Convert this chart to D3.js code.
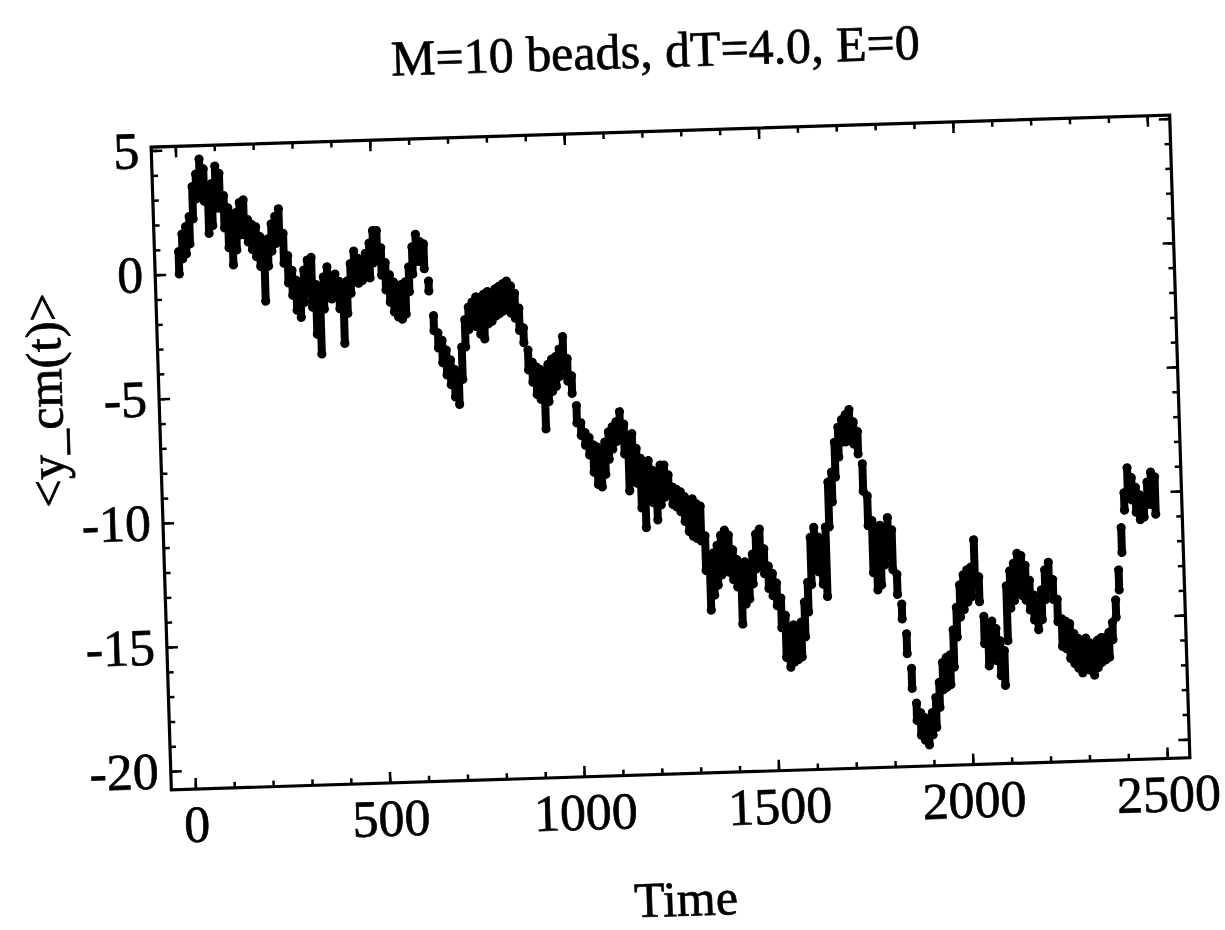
<!DOCTYPE html>
<html>
<head>
<meta charset="utf-8">
<script src="https://cdn.jsdelivr.net/npm/d3@7"></script>
<style>
  body { margin: 0; background: #fff; }
  text { font-family: "Liberation Serif", "Times New Roman", serif; stroke: #000; stroke-width: 0.7px; }
</style>
</head>
<body>
<svg></svg>
<script>
// sample spacing of the readings below (time units)
var tStep = 10;

// upper edge of the point cloud, one reading per tStep starting at t=0
var yHi = [
  0.9, 1.6, 1.9, 2.3, 3.5, 4.0, 4.6, 4.2, 3.4, 3.6,
  4.3, 4.0, 3.1, 2.6, 1.9, 2.4, 2.8, 2.9, 2.1, 1.9,
  1.8, 1.4, 0.6, 1.3, 1.9, 2.2, 2.5, 1.5, 0.6, 0.0,
  -0.4, -0.6, 0.0, 0.4, 0.5, -0.6, -0.9, -0.3, 0.1, -0.3,
  -0.2, -0.5, -1.0, -0.5, 0.2, 0.7, 0.4, 0.1, 0.6, 1.0,
  1.5, 1.5, 0.8, 0.2, -0.3, -0.6, -0.8, -0.7, -0.6, 0.0,
  0.8, 1.3, 1.0, 0.9, -0.6, -2.0, -2.7, -3.0, -3.4, -3.8,
  -4.2, -4.5, -3.3, -2.2, -1.7, -1.5, -1.3, -1.4, -1.2, -1.1,
  -1.2, -1.0, -0.9, -0.8, -0.7, -0.9, -1.2, -1.8, -2.6, -3.5,
  -4.0, -4.2, -4.3, -4.5, -4.1, -3.9, -3.8, -3.5, -3.0, -3.9,
  -4.6, -5.8, -6.5, -6.9, -7.1, -7.4, -7.5, -7.6, -7.3, -6.9,
  -6.7, -6.5, -6.1, -6.6, -7.4, -7.0, -7.6, -8.0, -8.3, -8.1,
  -8.5, -8.6, -8.3, -8.3, -8.7, -9.2, -9.3, -9.4, -9.6, -9.8,
  -9.7, -9.9, -10.0, -11.2, -12.2, -11.9, -11.6, -11.2, -11.0, -11.2,
  -11.8, -12.2, -12.5, -12.3, -12.6, -12.0, -11.2, -11.0, -11.8, -12.5,
  -12.8, -13.2, -13.8, -14.5, -15.0, -14.9, -15.0, -14.8, -14.0, -13.2,
  -11.4, -11.0, -11.4, -11.5, -11.0, -9.2, -8.8, -7.6, -7.0, -6.7,
  -6.5, -6.3, -6.8, -7.2, -8.5, -9.8, -10.8, -11.2, -11.0, -11.1,
  -10.7, -11.2, -13.0, -14.2, -15.4, -16.8, -18.2, -18.6, -18.8, -18.9,
  -18.6, -18.0, -17.4, -16.6, -16.4, -16.3, -15.3, -14.4, -13.5, -13.1,
  -12.9, -12.8, -11.7, -13.2, -14.8, -15.6, -15.0, -15.3, -15.8, -16.2,
  -13.6, -13.0, -12.7, -12.3, -12.4, -12.8, -13.4, -14.0, -14.4, -13.8,
  -13.0, -12.7, -13.4, -14.2, -15.0, -15.1, -15.2, -15.6, -15.8, -16.0,
  -15.8, -16.0, -16.1, -15.9, -15.8, -15.8, -15.6, -15.2, -14.3, -13.1,
  -11.4, -10.0, -9.0, -9.4, -9.8, -10.1, -10.3, -9.6, -9.2, -9.4
];

// lower edge of the point cloud, same time grid
var yLo = [
  0.0, 0.6, 0.8, 1.2, 2.2, 3.0, 3.3, 2.9, 1.6, 1.9,
  2.6, 2.6, 1.8, 1.0, 0.3, 0.9, 1.5, 1.5, 1.2, 0.9,
  0.6, 0.2, -1.2, 0.2, 0.8, 1.1, 1.2, 0.3, -0.5, -1.0,
  -1.6, -1.9, -1.3, -0.9, -1.5, -2.6, -3.4, -1.6, -1.0, -1.2,
  -1.0, -1.6, -3.0, -1.8, -1.0, -0.4, -0.6, -0.5, -0.1, -0.4,
  0.2, 0.3, -0.3, -0.9, -1.4, -1.8, -2.0, -2.1, -1.9, -1.0,
  -0.3, 0.2, 0.2, -0.1, -1.0, -2.6, -3.3, -3.9, -4.4, -4.8,
  -5.3, -5.6, -4.6, -3.3, -2.6, -2.4, -2.5, -2.8, -3.0, -2.4,
  -2.3, -2.1, -2.0, -1.9, -1.7, -2.0, -2.2, -2.7, -3.2, -4.3,
  -4.8, -5.3, -5.5, -6.7, -5.6, -5.2, -5.0, -4.6, -4.2, -4.8,
  -5.3, -6.5, -7.0, -7.4, -7.8, -8.5, -9.0, -9.1, -8.6, -8.0,
  -7.6, -7.3, -7.2, -7.8, -9.3, -8.8, -9.0, -10.0, -10.8, -9.7,
  -9.8, -10.5, -9.9, -9.6, -9.4, -9.9, -10.0, -10.2, -10.6, -11.0,
  -11.2, -11.3, -11.4, -12.6, -14.2, -13.6, -13.2, -12.8, -12.5, -12.7,
  -13.0, -13.3, -14.8, -14.0, -13.8, -13.2, -12.6, -12.3, -12.8, -13.4,
  -13.7, -14.1, -15.0, -16.2, -16.6, -16.4, -16.3, -16.2, -15.4, -14.4,
  -13.3, -12.4, -12.8, -13.3, -13.8, -11.0, -10.0, -9.0, -8.2, -7.6,
  -7.6, -7.5, -7.7, -8.1, -9.6, -11.0, -12.9, -13.6, -13.4, -12.6,
  -12.2, -12.8, -13.8, -14.8, -16.2, -17.6, -18.9, -19.5, -19.7, -19.9,
  -19.5, -19.2, -18.4, -17.7, -17.6, -17.5, -16.8, -15.6, -14.8, -14.5,
  -14.2, -14.0, -13.5, -14.2, -15.9, -16.8, -16.4, -16.6, -17.2, -17.6,
  -15.8, -14.5, -14.2, -13.8, -14.0, -14.2, -14.6, -15.0, -15.4, -15.0,
  -14.2, -13.6, -14.2, -15.1, -16.1, -16.2, -16.6, -16.8, -17.0, -17.2,
  -17.0, -17.1, -17.3, -17.0, -16.8, -16.7, -16.6, -15.9, -15.0, -13.9,
  -12.4, -10.7, -9.9, -10.3, -10.8, -11.1, -11.0, -10.5, -10.5, -10.9
];

// tick values
var xMajor = [0, 500, 1000, 1500, 2000, 2500];
var yMajor = [-20, -15, -10, -5, 0, 5];
var xMinor = d3.range(0, 2501, 100);
var yMinor = d3.range(-20, 6, 1);

var titleText = "M=10 beads, dT=4.0, E=0";
var xLabel = "Time";
var yLabel = "<y_cm(t)>";

var svg = d3.select("svg")
    .attr("width", 1225)
    .attr("height", 930);

// frame edges in unrotated coordinates
var frameL = 161, frameR = 1180, frameT = 131, frameB = 774;

var x = d3.scaleLinear().domain([-62, 2558]).range([frameL, frameR]);
var y = d3.scaleLinear().domain([-20.75, 5.14]).range([frameB, frameT]);

// the original scan sits slightly tilted, so draw everything in one rotated group
var g = svg.append("g")
    .attr("transform", "rotate(-1.8,670,452)");

// points, one time grid, upper and lower readings
var pts = [];
yHi.forEach(function(v, i) {
  pts.push({t: i * tStep, lo: yLo[i], hi: v});
});

var cloud = g.append("g").attr("class", "cloud");

// dense spread between the two readings
cloud.selectAll("line")
    .data(pts)
  .enter().append("line")
    .attr("x1", function(d) { return x(d.t); })
    .attr("x2", function(d) { return x(d.t); })
    .attr("y1", function(d) { return y(d.hi); })
    .attr("y2", function(d) { return y(d.lo); })
    .attr("stroke", "#000")
    .attr("stroke-width", 8)
    .attr("stroke-linecap", "round");

cloud.selectAll("circle.hi")
    .data(pts)
  .enter().append("circle")
    .attr("class", "hi")
    .attr("cx", function(d) { return x(d.t); })
    .attr("cy", function(d) { return y(d.hi); })
    .attr("r", 4.6)
    .attr("fill", "#000");

cloud.selectAll("circle.lo")
    .data(pts)
  .enter().append("circle")
    .attr("class", "lo")
    .attr("cx", function(d) { return x(d.t); })
    .attr("cy", function(d) { return y(d.lo); })
    .attr("r", 4.6)
    .attr("fill", "#000");

// helper to style an axis group
function styleAxis(sel) {
  sel.select(".domain").remove();
  sel.selectAll(".tick line").attr("stroke", "#000").attr("stroke-width", 2.5);
  sel.attr("font-family", "'Liberation Serif', 'Times New Roman', serif")
     .attr("font-size", 52);
  sel.selectAll(".tick text").attr("fill", "#000");
}

var fmt = function(d) { return String(d); };

// bottom
g.append("g").attr("transform", "translate(0," + frameB + ")")
    .call(d3.axisBottom(x).tickValues(xMinor).tickSize(-6).tickFormat(""))
    .call(styleAxis);
g.append("g").attr("transform", "translate(0," + frameB + ")")
    .call(d3.axisBottom(x).tickValues(xMajor).tickSize(-11).tickPadding(16).tickFormat(fmt))
    .call(styleAxis);

// top
g.append("g").attr("transform", "translate(0," + frameT + ")")
    .call(d3.axisTop(x).tickValues(xMinor).tickSize(-6).tickFormat(""))
    .call(styleAxis);
g.append("g").attr("transform", "translate(0," + frameT + ")")
    .call(d3.axisTop(x).tickValues(xMajor).tickSize(-11).tickFormat(""))
    .call(styleAxis);

// left
g.append("g").attr("transform", "translate(" + frameL + ",0)")
    .call(d3.axisLeft(y).tickValues(yMinor).tickSize(-6).tickFormat(""))
    .call(styleAxis);
g.append("g").attr("transform", "translate(" + frameL + ",0)")
    .call(d3.axisLeft(y).tickValues(yMajor).tickSize(-11).tickPadding(12).tickFormat(fmt))
    .call(styleAxis);

// right
g.append("g").attr("transform", "translate(" + frameR + ",0)")
    .call(d3.axisRight(y).tickValues(yMinor).tickSize(-6).tickFormat(""))
    .call(styleAxis);
g.append("g").attr("transform", "translate(" + frameR + ",0)")
    .call(d3.axisRight(y).tickValues(yMajor).tickSize(-11).tickFormat(""))
    .call(styleAxis);

// frame
g.append("rect")
    .attr("x", frameL)
    .attr("y", frameT)
    .attr("width", frameR - frameL)
    .attr("height", frameB - frameT)
    .attr("fill", "none")
    .attr("stroke", "#000")
    .attr("stroke-width", 3.2);

// title and axis labels
g.append("text")
    .attr("x", 668)
    .attr("y", 67)
    .attr("text-anchor", "middle")
    .attr("font-size", 50)
    .attr("fill", "#000")
    .text(titleText);

g.append("text")
    .attr("x", 672)
    .attr("y", 916)
    .attr("text-anchor", "middle")
    .attr("font-size", 50)
    .attr("fill", "#000")
    .text(xLabel);

g.append("text")
    .attr("transform", "translate(64,381) rotate(-90)")
    .attr("text-anchor", "middle")
    .attr("font-size", 50)
    .attr("fill", "#000")
    .text(yLabel);
</script>
</body>
</html>
